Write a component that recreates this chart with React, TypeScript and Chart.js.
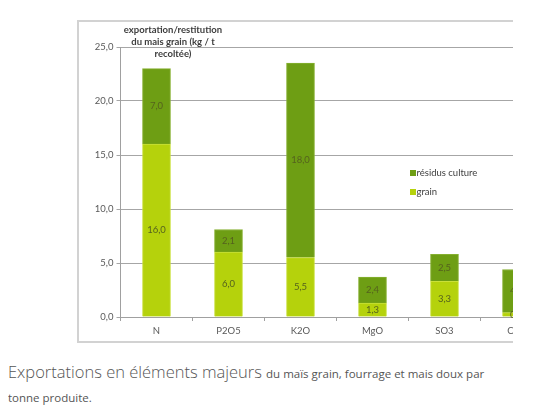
import { useEffect, useRef } from 'react';
import { Chart, registerables } from 'chart.js';

Chart.register(...registerables);

const categories = ['N', 'P2O5', 'K2O', 'MgO', 'SO3', 'CaO'];
const grainValues = [16.0, 6.0, 5.5, 1.3, 3.3, 0.4];
const residusValues = [7.0, 2.1, 18.0, 2.4, 2.5, 4.0];
const yTicks = [0, 5, 10, 15, 20, 25];

const GRAIN = '#b5d20c';
const RESIDUS = '#6e9e14';
const TEXT = '#595959';
const CHART_FONT = 'Lato, "DejaVu Sans", sans-serif';

const fmt = (v: number) => v.toFixed(1).replace('.', ',');

const barLabels = {
  id: 'barLabels',
  afterDatasetsDraw(chart: Chart) {
    const { ctx } = chart;
    ctx.save();
    ctx.font = `9.5px ${CHART_FONT}`;
    ctx.fillStyle = '#55621e';
    ctx.textAlign = 'center';
    ctx.textBaseline = 'middle';
    chart.data.datasets.forEach((ds, i) => {
      const meta = chart.getDatasetMeta(i);
      meta.data.forEach((el: any, j) => {
        const v = ds.data[j] as number;
        ctx.fillText(fmt(v), el.x, (el.y + el.base) / 2);
      });
    });
    ctx.restore();
  },
};

export default function App() {
  const chartRef = useRef<HTMLCanvasElement>(null);
  const chartInstance = useRef<Chart | null>(null);

  useEffect(() => {
    if (!chartRef.current) return;
    if (chartInstance.current) chartInstance.current.destroy();

    chartInstance.current = new Chart(chartRef.current, {
      type: 'bar',
      data: {
        labels: categories,
        datasets: [
          {
            label: 'grain',
            data: grainValues,
            backgroundColor: GRAIN,
            borderColor: '#c9e03a',
            borderWidth: 1,
            barThickness: 28,
          },
          {
            label: 'résidus culture',
            data: residusValues,
            backgroundColor: RESIDUS,
            borderColor: '#86b030',
            borderWidth: 1,
            barThickness: 28,
          },
        ],
      },
      options: {
        responsive: false,
        animation: false,
        layout: { padding: { top: 25, right: 22.5, bottom: 0, left: 0 } },
        plugins: {
          legend: { display: false },
          tooltip: { enabled: false },
        },
        scales: {
          x: {
            stacked: true,
            grid: {
              drawOnChartArea: false,
              drawTicks: true,
              tickLength: 4,
              color: '#a0a0a0',
            },
            border: { color: '#a0a0a0' },
            ticks: {
              color: TEXT,
              font: { family: CHART_FONT, size: 9.5 },
              padding: 4,
              maxRotation: 0,
            },
            afterFit: (scale: any) => {
              scale.height = 24;
            },
          },
          y: {
            stacked: true,
            min: 0,
            max: 25,
            afterBuildTicks: (scale: any) => {
              scale.ticks = yTicks.map(v => ({ value: v }));
            },
            grid: {
              color: '#a6a6a6',
              tickLength: 4,
            },
            border: { color: '#a0a0a0' },
            ticks: {
              color: TEXT,
              font: { family: CHART_FONT, size: 9.5 },
              padding: 3,
              callback: (v: any) => fmt(Number(v)),
            },
            afterFit: (scale: any) => {
              scale.width = 41.5;
            },
          },
        },
      },
      plugins: [barLabels],
    });

    return () => {
      if (chartInstance.current) {
        chartInstance.current.destroy();
        chartInstance.current = null;
      }
    };
  }, []);

  return (
    <div>
      <div style={{ position: 'relative', width: 505, height: 340, overflow: 'hidden' }}>
        <div
          style={{
            position: 'absolute',
            left: 69,
            top: 12,
            width: 500,
            height: 323,
            border: '2px solid #d2d2d2',
            boxSizing: 'border-box',
          }}
        >
          <canvas ref={chartRef} width={496} height={319} style={{ display: 'block' }}></canvas>
        </div>
        <div
          style={{
            position: 'absolute',
            left: 105,
            width: 120,
            top: 16,
            textAlign: 'center',
            fontFamily: CHART_FONT,
            fontWeight: 'bold',
            fontSize: 9.5,
            lineHeight: '12px',
            color: '#3d3d3d',
          }}
        >
          exportation/restitution
          <br />
          du mais grain (kg / t
          <br />
          recoltée)
        </div>
        <div
          style={{
            position: 'absolute',
            left: 401.5,
            top: 155,
            fontFamily: CHART_FONT,
            fontSize: 9.5,
            lineHeight: '19px',
            color: '#404040',
          }}
        >
          {[['résidus culture', RESIDUS], ['grain', GRAIN]].map(([t, c]) => (
            <div key={t} style={{ display: 'flex', alignItems: 'center' }}>
              <span style={{ width: 6, height: 6, background: c, marginRight: 1 }}></span>
              {t}
            </div>
          ))}
        </div>
      </div>
      <div
        style={{
          marginTop: 13,
          fontFamily: '"Open Sans", sans-serif',
          color: '#555',
          lineHeight: '22px',
          width: 500,
        }}
      >
        <span style={{ fontSize: 16.5, fontWeight: 300 }}>Exportations en éléments majeurs</span>{' '}
        <span style={{ fontSize: 11.5 }}>du maïs grain, fourrage et mais doux par tonne produite.</span>
      </div>
    </div>
  );
}
